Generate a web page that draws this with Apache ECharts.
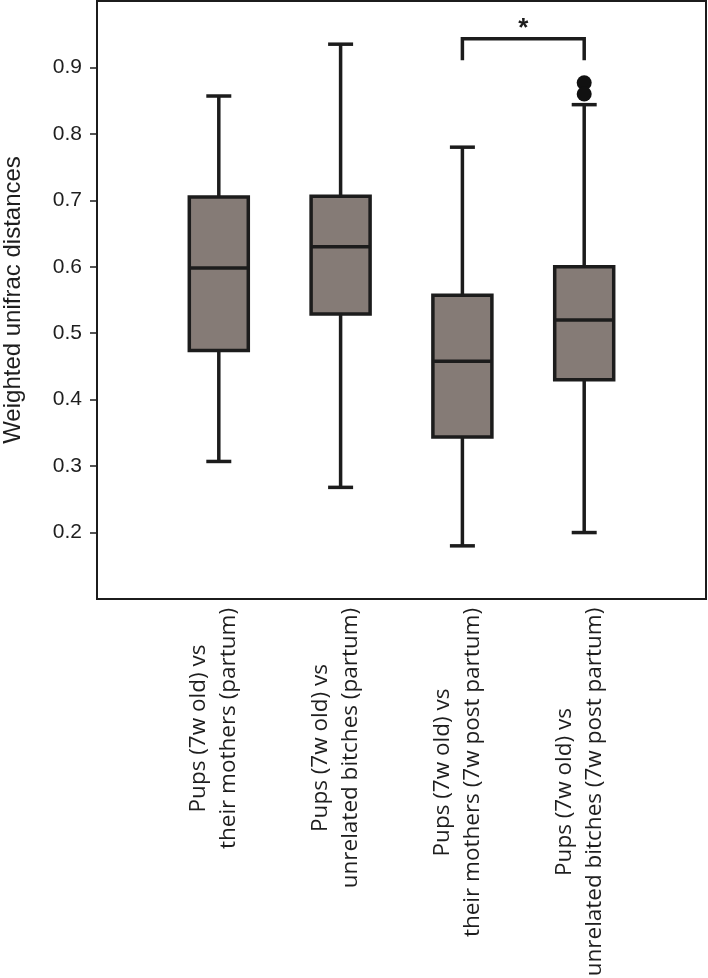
<!DOCTYPE html>
<html><head><meta charset="utf-8">
<script src="https://cdn.jsdelivr.net/npm/echarts@6/dist/echarts.min.js"></script>
<style>html,body{margin:0;padding:0;background:#fff}#c{width:708px;height:978px}</style>
</head><body><div id="c"></div>
<script>
// ---- data ----
const categories = [
  'Pups (7w old) vs\ntheir mothers (partum)',
  'Pups (7w old) vs\nunrelated bitches (partum)',
  'Pups (7w old) vs\ntheir mothers (7w post partum)',
  'Pups (7w old) vs\nunrelated bitches (7w post partum)'
];
const whiskerLow  = [0.307, 0.268, 0.180, 0.200];
const q1          = [0.474, 0.529, 0.344, 0.430];
const median      = [0.598, 0.630, 0.458, 0.520];
const q3          = [0.705, 0.706, 0.557, 0.600];
const whiskerHigh = [0.857, 0.935, 0.780, 0.844];
const outlierGroup = [3, 3];
const outlierValue = [0.877, 0.860];
const yTicks = [0.2, 0.3, 0.4, 0.5, 0.6, 0.7, 0.8, 0.9];
const bracketGroups = [2, 3];
const bracketTop = 0.943;
const bracketLegEnd = 0.911;
const bracketLabel = '*';
const bracketLabelValue = 0.958;
const yTitle = 'Weighted unifrac distances';

// ---- build ----
const INK = '#1c1c1c';
const FILL = '#857b76';
const XSIZE = 22.5;
const XFONT = XSIZE + 'px "Open Sans"';
const axisCats = [''].concat(categories, ['']);
const boxData = categories.map((c, i) => [i + 1, whiskerLow[i], q1[i], median[i], q3[i], whiskerHigh[i]]);
const outlierData = outlierGroup.map((g, i) => [g + 1, outlierValue[i]]);

const ctx = document.createElement('canvas').getContext('2d');
ctx.font = XFONT;
const rich = {};
const labelMap = {};
categories.forEach((c, i) => {
  const lines = c.split('\n');
  const w = Math.ceil(Math.max(...lines.map(l => ctx.measureText(l).width))) + 1;
  rich['c' + i] = { width: w, align: 'center', fontFamily: '"Open Sans"', fontSize: XSIZE, lineHeight: 30, color: '#1e1e1e' };
  labelMap[c] = lines.map(l => '{c' + i + '|' + l + '}').join('\n');
});

function renderBox(params, api) {
  const x = api.value(0);
  const lo = api.coord([x, api.value(1)]);
  const a = api.coord([x, api.value(2)]);
  const m = api.coord([x, api.value(3)]);
  const b = api.coord([x, api.value(4)]);
  const hi = api.coord([x, api.value(5)]);
  const cx = lo[0];
  const bw = 59, cw = 25;
  const ls = { stroke: INK, lineWidth: 3.5 };
  return { type: 'group', children: [
    { type: 'line', shape: { x1: cx, y1: hi[1], x2: cx, y2: b[1] }, style: ls },
    { type: 'line', shape: { x1: cx, y1: a[1], x2: cx, y2: lo[1] }, style: ls },
    { type: 'line', shape: { x1: cx - cw / 2, y1: hi[1], x2: cx + cw / 2, y2: hi[1] }, style: ls },
    { type: 'line', shape: { x1: cx - cw / 2, y1: lo[1], x2: cx + cw / 2, y2: lo[1] }, style: ls },
    { type: 'rect', shape: { x: cx - bw / 2, y: b[1], width: bw, height: a[1] - b[1] }, style: { fill: FILL, stroke: INK, lineWidth: 3.5 } },
    { type: 'line', shape: { x1: cx - bw / 2, y1: m[1], x2: cx + bw / 2, y2: m[1] }, style: ls }
  ]};
}

function renderBracket(params, api) {
  const p1 = api.coord([api.value(0), api.value(2)]);
  const p2 = api.coord([api.value(1), api.value(2)]);
  const e1 = api.coord([api.value(0), api.value(3)]);
  const e2 = api.coord([api.value(1), api.value(3)]);
  const t = api.coord([api.value(0), api.value(4)]);
  const tx = (p1[0] + p2[0]) / 2;
  return { type: 'group', children: [
    { type: 'polyline', shape: { points: [[e1[0], e1[1]], [p1[0], p1[1]], [p2[0], p2[1]], [e2[0], e2[1]]] },
      style: { stroke: INK, lineWidth: 3.5, fill: null } },
    { type: 'text', x: tx, y: t[1], style: { text: bracketLabel, fill: INK, font: 'bold 26px "Liberation Sans"', align: 'center', verticalAlign: 'middle' } }
  ]};
}

const chart = echarts.init(document.getElementById('c'), null, { renderer: 'canvas' });
chart.setOption({
  animation: false,
  backgroundColor: '#fff',
  grid: { left: 97, right: 2, top: 1, bottom: 379, show: true, borderColor: INK, borderWidth: 2,
          containLabel: false, outerBoundsMode: 'none' },
  xAxis: {
    type: 'category', data: axisCats, boundaryGap: false,
    axisLine: { show: false }, axisTick: { show: false }, splitLine: { show: false },
    axisLabel: {
      interval: 0, rotate: 90, margin: 8, color: '#1e1e1e',
      fontFamily: '"Open Sans"', fontSize: XSIZE, lineHeight: 30,
      padding: [0, 0, 10, 0],
      hideOverlap: false,
      formatter: v => v ? labelMap[v] : '',
      rich: rich
    }
  },
  yAxis: {
    type: 'value', min: 0.1, max: 1.0, interval: 0.1,
    name: yTitle, nameLocation: 'middle', nameGap: 72,
    nameTextStyle: { fontFamily: '"Liberation Sans"', fontSize: 24, color: '#1e1e1e' },
    axisLine: { show: false },
    splitLine: { show: false },
    axisTick: { show: true, length: 7, customValues: yTicks, lineStyle: { color: INK, width: 1.5 } },
    axisLabel: { customValues: yTicks, margin: 15, fontFamily: '"Liberation Sans"', fontSize: 21, color: '#1e1e1e', formatter: v => v.toFixed(1) }
  },
  series: [
    { type: 'custom', renderItem: renderBox, data: boxData, encode: { x: 0, y: [1, 2, 3, 4, 5] }, z: 2 },
    { type: 'scatter', data: outlierData, symbol: 'circle', symbolSize: 15, itemStyle: { color: '#111', opacity: 1 }, z: 3 },
    { type: 'custom', renderItem: renderBracket,
      data: [[bracketGroups[0] + 1, bracketGroups[1] + 1, bracketTop, bracketLegEnd, bracketLabelValue]],
      encode: { x: [0, 1], y: [2, 3] }, z: 3 }
  ]
});
</script></body></html>
